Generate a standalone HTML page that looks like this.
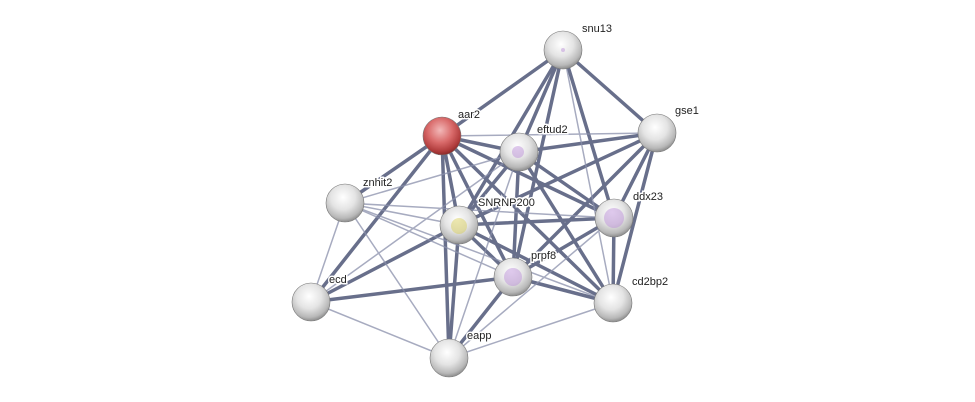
<!DOCTYPE html>
<html><head><meta charset="utf-8"><style>body{margin:0;background:#fff}svg{display:block}text{font-family:"Liberation Sans",sans-serif;font-size:11px;fill:#222;paint-order:stroke;stroke:#fff;stroke-width:3px}</style></head><body>
<svg width="975" height="402" viewBox="0 0 975 402">
<defs>
<radialGradient id="g" cx="45%" cy="35%" r="65%"><stop offset="0" stop-color="#fff"/><stop offset="0.5" stop-color="#e4e4e4"/><stop offset="0.85" stop-color="#b8b8b8"/><stop offset="1" stop-color="#8e8e8e"/></radialGradient>
<radialGradient id="r" cx="45%" cy="35%" r="65%"><stop offset="0" stop-color="#f2b8b8"/><stop offset="0.5" stop-color="#d96a6a"/><stop offset="0.85" stop-color="#b03c3c"/><stop offset="1" stop-color="#8a2a2a"/></radialGradient>
</defs>
<g stroke-linecap="round">
<g stroke="#4e5677" stroke-width="3.5" opacity="0.85">
<line x1="563" y1="50" x2="519" y2="152"/><line x1="563" y1="50" x2="459" y2="225"/><line x1="563" y1="50" x2="513" y2="277"/><line x1="563" y1="50" x2="614" y2="218"/><line x1="563" y1="50" x2="657" y2="133"/>
<line x1="442" y1="136" x2="519" y2="152"/><line x1="442" y1="136" x2="459" y2="225"/><line x1="442" y1="136" x2="513" y2="277"/><line x1="442" y1="136" x2="345" y2="203"/><line x1="442" y1="136" x2="311" y2="302"/><line x1="442" y1="136" x2="614" y2="218"/><line x1="442" y1="136" x2="613" y2="303"/><line x1="442" y1="136" x2="449" y2="358"/>
<line x1="519" y1="152" x2="657" y2="133"/><line x1="519" y1="152" x2="459" y2="225"/><line x1="519" y1="152" x2="513" y2="277"/><line x1="519" y1="152" x2="614" y2="218"/><line x1="519" y1="152" x2="613" y2="303"/>
<line x1="657" y1="133" x2="459" y2="225"/><line x1="657" y1="133" x2="513" y2="277"/><line x1="657" y1="133" x2="614" y2="218"/><line x1="657" y1="133" x2="613" y2="303"/>
<line x1="459" y1="225" x2="513" y2="277"/><line x1="459" y1="225" x2="614" y2="218"/><line x1="459" y1="225" x2="613" y2="303"/><line x1="459" y1="225" x2="449" y2="358"/><line x1="459" y1="225" x2="311" y2="302"/>
<line x1="513" y1="277" x2="614" y2="218"/><line x1="513" y1="277" x2="613" y2="303"/><line x1="513" y1="277" x2="311" y2="302"/><line x1="513" y1="277" x2="449" y2="358"/>
<line x1="614" y1="218" x2="613" y2="303"/><line x1="563" y1="50" x2="442" y2="136"/>
</g>
<g stroke="#8a90ab" stroke-width="1.5" opacity="0.75">
<line x1="563" y1="50" x2="613" y2="303"/><line x1="442" y1="136" x2="657" y2="133"/>
<line x1="519" y1="152" x2="311" y2="302"/><line x1="519" y1="152" x2="449" y2="358"/><line x1="519" y1="152" x2="345" y2="203"/>
<line x1="345" y1="203" x2="459" y2="225"/><line x1="345" y1="203" x2="513" y2="277"/><line x1="345" y1="203" x2="311" y2="302"/><line x1="345" y1="203" x2="449" y2="358"/><line x1="345" y1="203" x2="613" y2="303"/><line x1="345" y1="203" x2="614" y2="218"/>
<line x1="311" y1="302" x2="449" y2="358"/><line x1="449" y1="358" x2="613" y2="303"/><line x1="449" y1="358" x2="614" y2="218"/>
</g>
</g>
<g stroke="#777" stroke-width="0.6">
<circle cx="563" cy="50" r="19" fill="url(#g)"/>
<circle cx="442" cy="136" r="19" fill="url(#r)"/>
<circle cx="519" cy="152" r="19" fill="url(#g)"/>
<circle cx="657" cy="133" r="19" fill="url(#g)"/>
<circle cx="345" cy="203" r="19" fill="url(#g)"/>
<circle cx="459" cy="225" r="19" fill="url(#g)"/>
<circle cx="614" cy="218" r="19" fill="url(#g)"/>
<circle cx="513" cy="277" r="19" fill="url(#g)"/>
<circle cx="311" cy="302" r="19" fill="url(#g)"/>
<circle cx="613" cy="303" r="19" fill="url(#g)"/>
<circle cx="449" cy="358" r="19" fill="url(#g)"/>
</g>
<g opacity="0.45">
<circle cx="518" cy="152" r="6" fill="#b98ad8"/><circle cx="459" cy="226" r="8" fill="#d8cc50"/><circle cx="614" cy="218" r="10" fill="#b98ad8"/><circle cx="513" cy="277" r="9" fill="#b98ad8"/><circle cx="563" cy="50" r="2" fill="#b98ad8"/>
</g>
<text x="582" y="32">snu13</text><text x="458" y="118">aar2</text><text x="537" y="133">eftud2</text><text x="675" y="114">gse1</text><text x="363" y="186">znhit2</text><text x="478" y="206">SNRNP200</text><text x="633" y="200">ddx23</text><text x="531" y="259">prpf8</text><text x="329" y="283">ecd</text><text x="632" y="285">cd2bp2</text><text x="467" y="339">eapp</text>
</svg>
</body></html>
